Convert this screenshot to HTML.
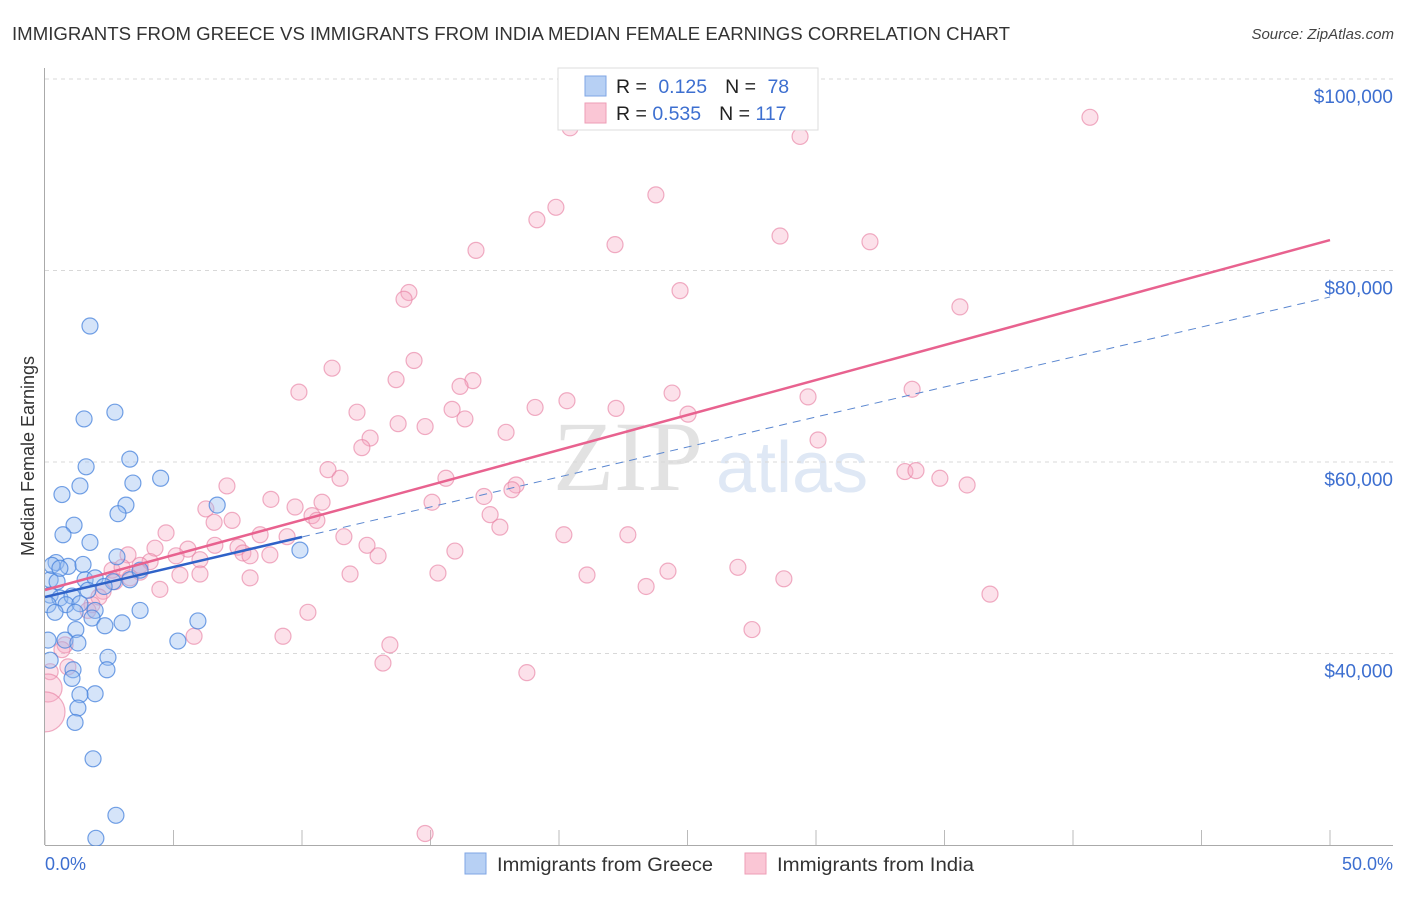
<!DOCTYPE html>
<html><head><meta charset="utf-8"><style>
body{margin:0;background:#fff;}
svg text{font-family:"Liberation Sans",sans-serif;}
</style></head><body>
<svg id="chart" width="1406" height="892" xmlns="http://www.w3.org/2000/svg">
<defs><clipPath id="plotclip"><rect x="45" y="60" width="1360" height="786"/></clipPath></defs>
<text x="12" y="40" font-size="18" fill="#333" textLength="998" lengthAdjust="spacingAndGlyphs">IMMIGRANTS FROM GREECE VS IMMIGRANTS FROM INDIA MEDIAN FEMALE EARNINGS CORRELATION CHART</text>
<text x="1394" y="39" font-size="15" fill="#444" font-style="italic" text-anchor="end">Source: ZipAtlas.com</text>
<g>
<text x="553" y="490" font-size="100" fill="#e2e2e2" style="font-family:'Liberation Serif',serif">ZIP</text>
<text x="716" y="492" font-size="72" fill="#dfe8f5">atlas</text>
</g>
<g id="grid"></g>
<g id="axes"></g>
<g id="points" clip-path="url(#plotclip)"></g>
<g id="lines"></g>
<text transform="translate(34,456) rotate(-90)" font-size="18" fill="#333" text-anchor="middle">Median Female Earnings</text>
<text x="45" y="870" font-size="18" fill="#3d6fd0">0.0%</text>
<text x="1393" y="870" font-size="18" fill="#3d6fd0" text-anchor="end">50.0%</text>
<g>
<rect x="558" y="68" width="260" height="62" fill="#fff" stroke="#ddd"/>
<rect x="585" y="76" width="21" height="20" fill="#b7d0f4" stroke="#7fa6e4"/>
<rect x="585" y="103" width="21" height="20" fill="#fac6d5" stroke="#ee9db6"/>
<text x="616" y="93" font-size="19.5" fill="#222">R = <tspan fill="#3d6fd0" dx="6">0.125</tspan><tspan dx="18" fill="#222">N = </tspan><tspan dx="6" fill="#3d6fd0">78</tspan></text>
<text x="616" y="120" font-size="19.5" fill="#222">R = <tspan fill="#3d6fd0">0.535</tspan><tspan dx="18" fill="#222">N = </tspan><tspan fill="#3d6fd0">117</tspan></text>
</g>
<g>
<rect x="465" y="853" width="21" height="21" fill="#b7d0f4" stroke="#7fa6e4"/>
<text x="497" y="871" font-size="19" fill="#333" textLength="216" lengthAdjust="spacingAndGlyphs">Immigrants from Greece</text>
<rect x="745" y="853" width="21" height="21" fill="#fac6d5" stroke="#ee9db6"/>
<text x="777" y="871" font-size="19" fill="#333" textLength="197" lengthAdjust="spacingAndGlyphs">Immigrants from India</text>
</g>
</svg>
<script>
const yTicks=[40000,60000,80000,100000];
const yTickLabels=["$40,000","$60,000","$80,000","$100,000"];
const xTicks=[0,5,10,15,20,25,30,35,40,45,50];
const greeceX=[1.75,1.52,2.72,1.6,3.3,4.5,0.66,1.36,3.42,3.15,2.84,6.7,1.13,0.7,1.75,2.8,0.43,0.9,1.48,0.2,0.47,1.56,1.95,2.65,2.3,3.3,3.7,0.2,0.58,1.05,0.12,0.82,1.36,1.95,0.39,1.17,1.83,3.0,2.33,3.7,5.95,1.2,0.12,0.78,1.28,2.45,5.17,9.92,0.2,1.09,2.41,1.05,1.95,1.36,1.28,1.17,1.87,2.76,1.98,0.27,0.58,1.67];
const greeceY=[74200,64500,65200,59500,60300,58300,56600,57500,57800,55500,54600,55500,53400,52400,51600,50100,49500,49100,49300,47700,47500,47700,47900,47500,47000,47700,48700,46100,45800,46000,45100,45100,45200,44500,44300,44300,43700,43200,42900,44500,43400,42500,41400,41400,41100,39600,41300,50800,39300,38300,38300,37400,35800,35700,34300,32800,29000,23100,20700,49200,48900,46600];
const indiaX=[20.43,29.38,40.66,23.77,19.88,19.14,16.77,22.18,28.6,32.1,24.71,14.16,13.97,35.6,14.36,11.17,13.66,16.65,16.15,9.88,24.4,33.74,29.69,15.84,19.07,20.31,22.22,25.02,12.14,13.74,16.34,14.79,17.94,12.65,12.33,30.08,11.01,15.6,11.48,33.46,33.89,34.82,35.88,7.08,8.79,18.33,18.17,17.08,15.06,10.78,9.73,6.26,6.58,7.28,10.39,10.58,17.32,17.7,20.19,22.68,4.71,8.37,9.42,11.63,7.51,6.61,4.28,5.56,7.7,5.1,3.23,12.53,15.95,4.09,6.03,7.98,8.75,3.7,2.61,3.0,3.7,12.96,5.25,6.03,11.87,15.29,21.09,24.24,26.96,28.75,7.98,3.31,2.72,4.47,2.26,2.1,1.83,1.67,10.23,23.39,36.77,5.8,9.26,27.51,13.42,13.15,18.75,0.78,0.89,0.66,0.2,0.12,0,14.79];
const indiaY=[94900,94000,96000,87900,86600,85300,82100,82700,83600,83000,77900,77700,77000,76200,70600,69800,68600,68500,67900,67300,67200,67600,66800,65500,65700,66400,65600,65000,65200,64000,64500,63700,63100,62500,61500,62300,59200,58300,58300,59000,59100,58300,57600,57500,56100,57600,57100,56400,55800,55800,55300,55100,53700,53900,54400,53900,54500,53200,52400,52400,52600,52400,52200,52200,51100,51300,51000,50900,50500,50200,50300,51300,50700,49600,49800,50200,50300,49200,48700,49000,48500,50200,48200,48300,48300,48400,48200,48600,49000,47800,47900,47900,47500,46700,46500,45900,45100,44500,44300,47000,46200,41800,41800,42500,40900,39000,38000,40900,38600,40400,38100,36400,33900,21200];
const indiaR=[8,8,8,8,8,8,8,8,8,8,8,8,8,8,8,8,8,8,8,8,8,8,8,8,8,8,8,8,8,8,8,8,8,8,8,8,8,8,8,8,8,8,8,8,8,8,8,8,8,8,8,8,8,8,8,8,8,8,8,8,8,8,8,8,8,8,8,8,8,8,8,8,8,8,8,8,8,8,8,8,8,8,8,8,8,8,8,8,8,8,8,8,8,8,8,8,8,8,8,8,8,8,8,8,8,8,8,8,8,8,8,14,20,8];
const greeceFit=[45900,52170];
const greeceFitEnd=77230;
const indiaFit=[46630,83180];

const NS="http://www.w3.org/2000/svg";
const X0=45,X1=1330,Y20=845,Y100=79;
function sx(p){return X0+(X1-X0)*p/50;}
function sy(v){return Y20-(Y20-Y100)*(v-20000)/80000;}
function mk(tag,attrs,parent){const e=document.createElementNS(NS,tag);for(const k in attrs)e.setAttribute(k,attrs[k]);parent.appendChild(e);return e;}
const grid=document.getElementById('grid'),axes=document.getElementById('axes'),pts=document.getElementById('points'),lines=document.getElementById('lines');
yTicks.forEach((t,i)=>{
  const l=mk('line',{x1:45,x2:1393,y1:sy(t),y2:sy(t),stroke:'#d8d8d8','stroke-dasharray':'4,4'},grid);
  
  
  const tx=mk('text',{x:1393,y:sy(t)+24,'font-size':19,fill:'#3d6fd0','text-anchor':'end'},grid);
  tx.textContent=yTickLabels[i];
  
  
});
const ya=mk('line',{x1:44.5,x2:44.5,y1:68,y2:845,stroke:'#aaa'},axes);


const xa=mk('line',{x1:45,x2:1393,y1:845.5,y2:845.5,stroke:'#aaa'},axes);


xTicks.forEach(t=>{
  const l=mk('line',{x1:sx(t),x2:sx(t),y1:830,y2:845,stroke:'#bbb'},axes);
  
  
});
indiaX.forEach((x,i)=>{
  const c=mk('circle',{cx:sx(x),cy:sy(indiaY[i]),r:indiaR[i],fill:'rgba(246,170,195,0.35)',stroke:'rgba(232,130,165,0.65)','stroke-width':1.2},pts);
  
  
});
greeceX.forEach((x,i)=>{
  const c=mk('circle',{cx:sx(x),cy:sy(greeceY[i]),r:8,fill:'rgba(150,188,240,0.4)',stroke:'rgba(70,130,220,0.75)','stroke-width':1.2},pts);
  
  
});
const gd=mk('line',{x1:sx(10),y1:sy(greeceFit[1]),x2:sx(50),y2:sy(greeceFitEnd),stroke:'#5b87d0','stroke-width':1,'stroke-dasharray':'8,6'},lines);


const ip=mk('line',{x1:sx(0),y1:sy(indiaFit[0]),x2:sx(50),y2:sy(indiaFit[1]),stroke:'#e8628f','stroke-width':2.5},lines);


const gl=mk('line',{x1:sx(0),y1:sy(greeceFit[0]),x2:sx(10),y2:sy(greeceFit[1]),stroke:'#2f62c8','stroke-width':2.5},lines);


</script>
</body></html>
